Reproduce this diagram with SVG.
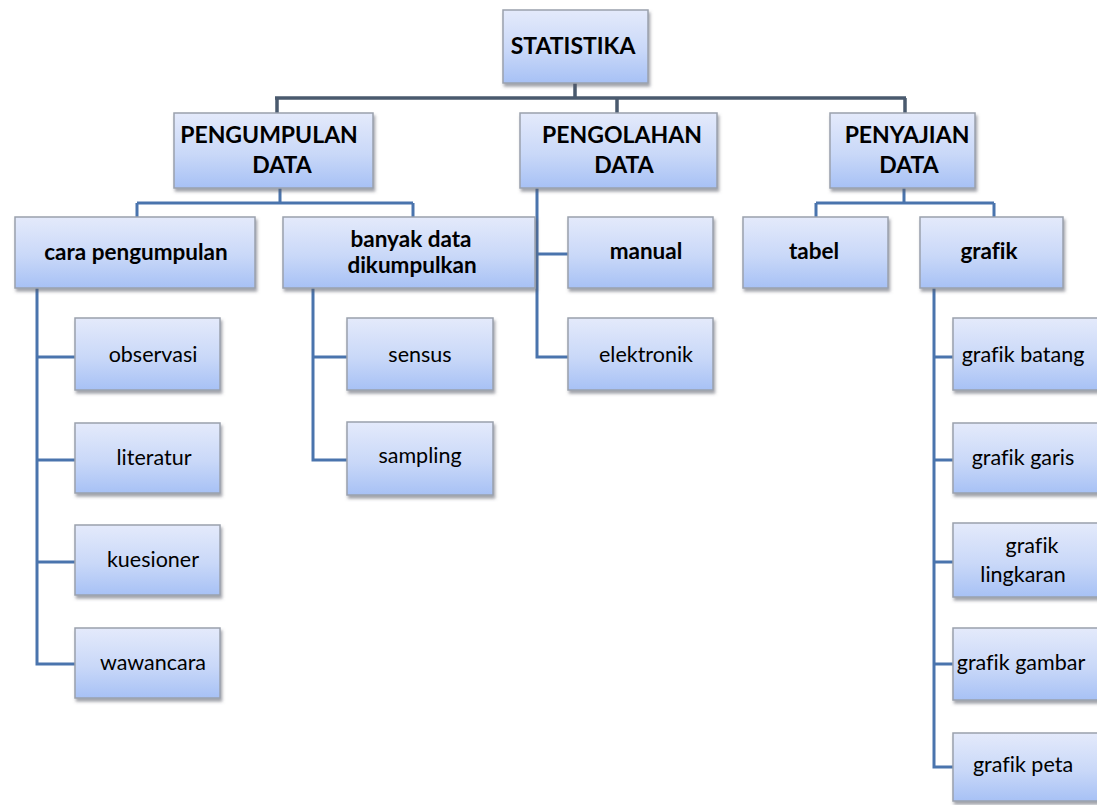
<svg xmlns="http://www.w3.org/2000/svg" width="1097" height="805" viewBox="0 0 1097 805">
<defs>
<linearGradient id="fill" x1="0" y1="0" x2="0" y2="1">
<stop offset="0" stop-color="#e4eafb"/>
<stop offset="0.55" stop-color="#c9d8f8"/>
<stop offset="1" stop-color="#a7c1f5"/>
</linearGradient>
<filter id="sh" x="-10%" y="-10%" width="125%" height="135%">
<feDropShadow dx="1.5" dy="3" stdDeviation="1.5" flood-color="#555a66" flood-opacity="0.55"/>
</filter>
</defs>
<style>
.box{fill:url(#fill);stroke:#9aa1ad;stroke-width:1.5;filter:url(#sh)}
.t{font-family:Lato,"Liberation Sans",sans-serif;fill:#000;text-anchor:middle;font-variant-ligatures:none}
.b1{font-size:23px;font-weight:bold}
.b2{font-size:22.5px;font-weight:bold}
.r{font-size:21.5px}
.c1{fill:none;stroke:#4a5a6e;stroke-width:3.5}
.c2{fill:none;stroke:#4a74ad;stroke-width:3}
</style>
<rect width="1097" height="805" fill="#fff"/>
<g id="connectors">
<path class="c1" d="M575 83V98M275 98H906M277 98V113M617 98V113M905 98V113"/>
<path class="c2" d="M280 188V203M137 203H413M137 203V217M413 203V217"/>
<path class="c2" d="M37 288V664H75M37 357H75M37 460H75M37 562H75"/>
<path class="c2" d="M313 288V460H347M313 357H347"/>
<path class="c2" d="M537 188V357H568M537 254H568"/>
<path class="c2" d="M904 188V203M816 203H994M816 203V217M994 203V217"/>
<path class="c2" d="M934 288V767H953M934 357H953M934 460H953M934 562H953M934 664H953"/>
</g>
<g id="statistika"><rect class="box" x="503" y="10" width="145" height="73"/><text class="t b1" x="573" y="54">STATISTIKA</text></g>
<g id="pengumpulan-data"><rect class="box" x="174" y="113" width="199" height="75"/><text class="t b1" x="269" y="143">PENGUMPULAN</text><text class="t b1" x="282" y="173">DATA</text></g>
<g id="pengolahan-data"><rect class="box" x="520" y="113" width="197" height="75"/><text class="t b1" x="622" y="143">PENGOLAHAN</text><text class="t b1" x="624" y="173">DATA</text></g>
<g id="penyajian-data"><rect class="box" x="830" y="113" width="145" height="75"/><text class="t b1" x="907" y="143">PENYAJIAN</text><text class="t b1" x="909" y="173">DATA</text></g>
<g id="cara-pengumpulan"><rect class="box" x="15" y="217" width="240" height="71"/><text class="t b2" x="136" y="260">cara pengumpulan</text></g>
<g id="banyak-data"><rect class="box" x="283" y="217" width="252" height="71"/><text class="t b2" x="411" y="247">banyak data</text><text class="t b2" x="412" y="273">dikumpulkan</text></g>
<g id="manual"><rect class="box" x="568" y="217" width="145" height="71"/><text class="t b2" x="646" y="259">manual</text></g>
<g id="elektronik"><rect class="box" x="568" y="318" width="145" height="72"/><text class="t r" x="646" y="362">elektronik</text></g>
<g id="tabel"><rect class="box" x="743" y="217" width="145" height="71"/><text class="t b2" x="814" y="259">tabel</text></g>
<g id="grafik"><rect class="box" x="920" y="217" width="143" height="71"/><text class="t b2" x="989" y="259">grafik</text></g>
<g id="observasi"><rect class="box" x="75" y="318" width="145" height="72"/><text class="t r" x="153" y="362">observasi</text></g>
<g id="literatur"><rect class="box" x="75" y="423" width="145" height="70"/><text class="t r" x="154" y="465">literatur</text></g>
<g id="kuesioner"><rect class="box" x="75" y="525" width="145" height="70"/><text class="t r" x="153" y="567">kuesioner</text></g>
<g id="wawancara"><rect class="box" x="75" y="628" width="145" height="70"/><text class="t r" x="153" y="670">wawancara</text></g>
<g id="sensus"><rect class="box" x="347" y="318" width="146" height="72"/><text class="t r" x="420" y="362">sensus</text></g>
<g id="sampling"><rect class="box" x="347" y="422" width="146" height="73"/><text class="t r" x="420" y="463">sampling</text></g>
<g id="grafik-batang"><rect class="box" x="953" y="318" width="150" height="72"/><text class="t r" x="1023" y="362">grafik batang</text></g>
<g id="grafik-garis"><rect class="box" x="953" y="423" width="150" height="70"/><text class="t r" x="1023" y="465">grafik garis</text></g>
<g id="grafik-lingkaran"><rect class="box" x="953" y="523" width="150" height="74"/><text class="t r" x="1032" y="553">grafik</text><text class="t r" x="1023" y="582">lingkaran</text></g>
<g id="grafik-gambar"><rect class="box" x="953" y="628" width="150" height="72"/><text class="t r" x="1021" y="670">grafik gambar</text></g>
<g id="grafik-peta"><rect class="box" x="953" y="733" width="150" height="68"/><text class="t r" x="1023" y="772">grafik peta</text></g>
</svg>
